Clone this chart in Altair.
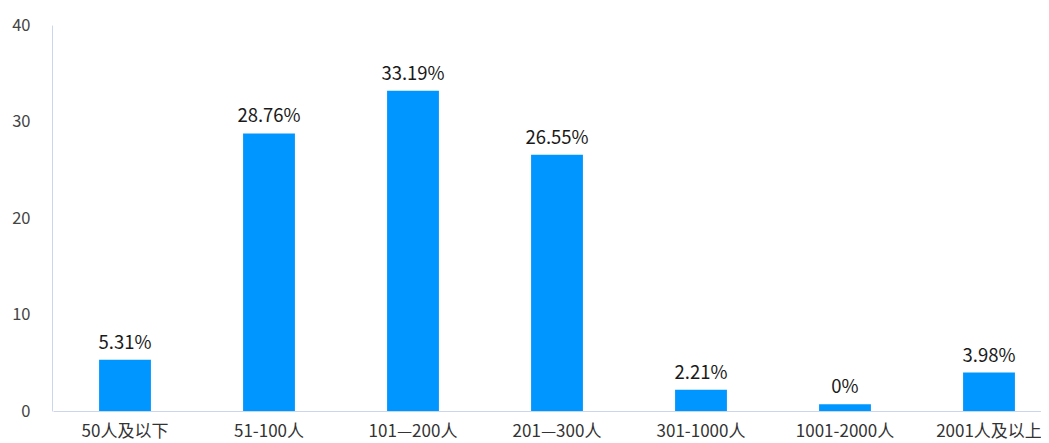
import altair as alt
import pandas as pd

categories = ["50人及以下", "51-100人", "101—200人", "201—300人", "301-1000人", "1001-2000人", "2001人及以上"]
values = [5.31, 28.76, 33.19, 26.55, 2.21, 0, 3.98]
y_ticks = [0, 10, 20, 30, 40]

df = pd.DataFrame({"cat": categories, "value": values})

FONT = "Noto Sans CJK SC"
AXIS_COLOR = "#ccd6eb"
BAR_COLOR = "#0096FF"
MIN_BAR = 0.7  # minimum visible bar length (data units)

base = alt.Chart(df).transform_calculate(
    disp=f"max(datum.value, {MIN_BAR})",
    lab="datum.value + '%'",
)

x = alt.X(
    "cat:N",
    sort=categories,
    title=None,
    scale=alt.Scale(range=[1, 1009], paddingInner=0.64, paddingOuter=0.32),
    axis=alt.Axis(
        labelAngle=0,
        labelFont=FONT,
        labelFontSize=17,
        labelColor="#333333",
        labelPadding=12,
        ticks=False,
        tickSize=0,
        domainColor=AXIS_COLOR,
        domainWidth=1,
        grid=False,
    ),
)

y = alt.Y(
    "disp:Q",
    title=None,
    scale=alt.Scale(domain=[0, 40], nice=False),
    axis=alt.Axis(
        values=y_ticks,
        labelFont=FONT,
        labelFontSize=16.5,
        labelColor="#444444",
        labelPadding=22,
        ticks=False,
        tickSize=0,
        domainColor=AXIS_COLOR,
        domainWidth=1,
        grid=False,
    ),
)

bars = base.mark_bar(color=BAR_COLOR).encode(x=x, y=y)

labels = base.mark_text(
    baseline="alphabetic",
    dy=-11,
    font=FONT,
    fontSize=18.5,
    fontWeight=400,
    color="#1a1a1a",
).encode(x=alt.X("cat:N", sort=categories), y=alt.Y("disp:Q"), text="lab:N")

chart = (
    alt.layer(bars, labels)
    .properties(
        width=989,
        height=386,
        background="white",
        autosize=alt.AutoSizeParams(type="none"),
        padding={"left": 44, "top": 17, "right": 0, "bottom": 32},
    )
    .configure_view(stroke=None, strokeWidth=0)
)

chart.save("out.html", embed_options={"renderer": "svg", "actions": False})
